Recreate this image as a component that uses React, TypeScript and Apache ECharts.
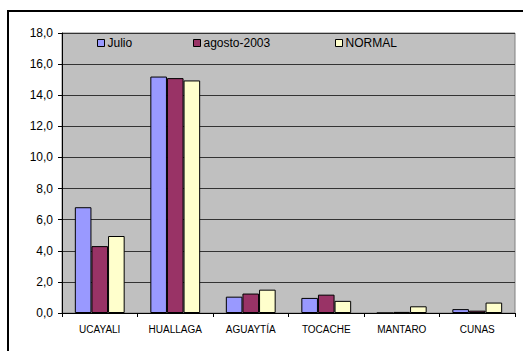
import React, { useEffect, useRef } from "react";
import * as echarts from "echarts";

const categories = ["UCAYALI", "HUALLAGA", "AGUAYTÍA", "TOCACHE", "MANTARO", "CUNAS"];
const julio = [6.8, 15.2, 1.05, 0.97, 0, 0.25];
const agosto = [4.3, 15.1, 1.25, 1.18, 0.07, 0.15];
const normal = [4.95, 14.95, 1.5, 0.78, 0.43, 0.67];
const yTicks = [0, 2, 4, 6, 8, 10, 12, 14, 16, 18];

export default function App() {
  const ref = useRef<HTMLDivElement>(null);
  useEffect(() => {
    if (!ref.current) return;
    const chart = echarts.init(ref.current, null, { renderer: "svg" });
    const font = "'Liberation Sans', Arial, sans-serif";
    const legendBase = {
      top: 37,
      icon: "rect",
      itemWidth: 7,
      itemHeight: 7,
      itemGap: 4,
      itemStyle: { borderColor: "#000", borderWidth: 1 },
      textStyle: { fontFamily: font, fontSize: 12, color: "#000", padding: [0, 0, 0, -2] },
      padding: 0,
    };
    chart.setOption({
      animation: false,
      backgroundColor: "#fff",
      textStyle: { fontFamily: font },
      legend: [
        { ...legendBase, left: 97, data: ["Julio"] },
        { ...legendBase, left: 193, data: ["agosto-2003"] },
        { ...legendBase, left: 335, data: ["NORMAL"] },
      ],
      grid: {
        left: 62,
        top: 33,
        right: 8,
        bottom: 38,
        show: true,
        backgroundColor: "#C0C0C0",
        borderColor: "#808080",
        borderWidth: 1,
      },
      xAxis: {
        type: "category",
        data: categories,
        axisLine: { lineStyle: { color: "#000", width: 1 } },
        axisTick: { show: true, alignWithLabel: false, length: 4, lineStyle: { color: "#000" } },
        axisLabel: { color: "#000", fontSize: 10, fontFamily: font, margin: 11 },
      },
      yAxis: {
        type: "value",
        min: 0,
        max: 18,
        interval: 2,
        axisLine: { show: true, lineStyle: { color: "#000", width: 1 } },
        axisTick: { show: true, length: 4, lineStyle: { color: "#000" } },
        axisLabel: {
          color: "#000",
          fontSize: 12,
          fontFamily: font,
          margin: 9,
          formatter: (v: number) => (yTicks.includes(v) ? v.toFixed(1).replace(".", ",") : ""),
        },
        splitLine: { show: true, lineStyle: { color: "#333", width: 1 } },
      },
      series: [
        {
          name: "Julio",
          type: "bar",
          data: julio,
          barGap: "0%",
          barCategoryGap: "34%",
          itemStyle: { color: "#9999FF", borderColor: "#000", borderWidth: 1 },
        },
        {
          name: "agosto-2003",
          type: "bar",
          data: agosto,
          barGap: "0%",
          barCategoryGap: "34%",
          itemStyle: { color: "#993366", borderColor: "#000", borderWidth: 1 },
        },
        {
          name: "NORMAL",
          type: "bar",
          data: normal,
          barGap: "0%",
          barCategoryGap: "34%",
          itemStyle: { color: "#FFFFCC", borderColor: "#000", borderWidth: 1 },
        },
      ],
      graphic: [
        {
          type: "rect",
          shape: { x: 8, y: 11, width: 600, height: 400 },
          style: { fill: "none", stroke: "#000", lineWidth: 2 },
          silent: true,
        },
      ],
    });
    return () => chart.dispose();
  }, []);
  return (
    <div
      ref={ref}
      style={{ position: "fixed", left: 0, top: 0, width: 523, height: 351 }}
    />
  );
}
